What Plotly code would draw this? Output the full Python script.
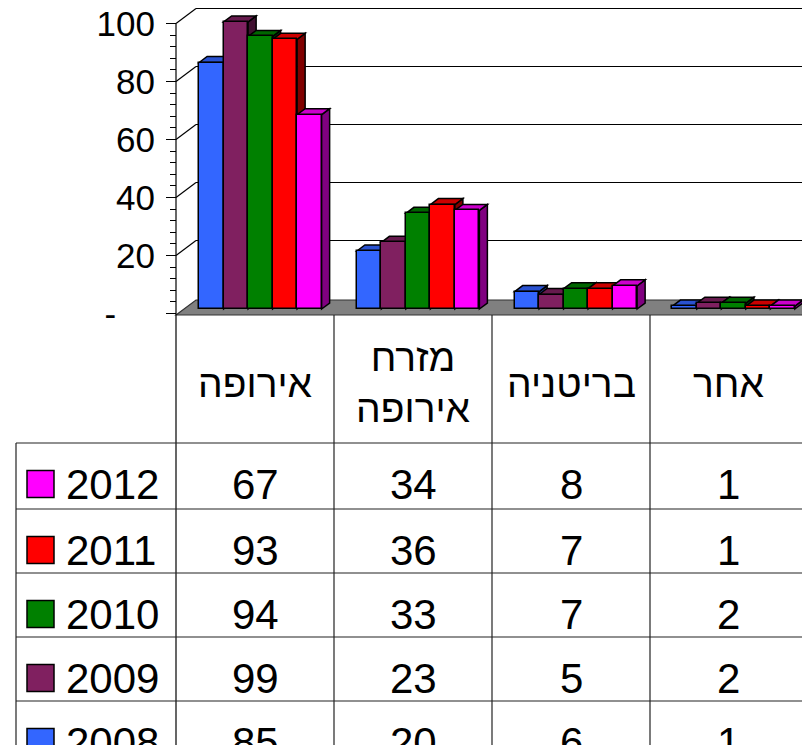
import plotly.graph_objects as go

# ---------------- data ----------------
categories = ["אירופה", "מזרח<br>אירופה", "בריטניה", "אחר"]
years = ["2008", "2009", "2010", "2011", "2012"]
v2008 = [85, 20, 6, 1]
v2009 = [99, 23, 5, 2]
v2010 = [94, 33, 7, 2]
v2011 = [93, 36, 7, 1]
v2012 = [67, 34, 8, 1]
series = [v2008, v2009, v2010, v2011, v2012]
tick_vals = [0, 20, 40, 60, 80, 100]
tick_text = ["-\u00a0\u00a0\u00a0\u00a0", "20", "40", "60", "80", "100"]

front_colors = ["#3366FF", "#802060", "#008000", "#FF0000", "#FF00FF"]
top_colors = ["#2A52D0", "#661A4D", "#006600", "#CC0000", "#CC00CC"]
side_colors = ["#1A3380", "#401030", "#004000", "#800000", "#800080"]

# ---------------- geometry (screen pixels -> data units) ----------------
W, H = 810, 745
OFF = 8                     # page body margin
X0, KX = 176.0, 157.75      # screen pixel of category origin, pixels per category
Y0, KY = 313.5, 2.9         # screen pixel of value 0 on front plane, pixels per unit


def px(p):
    return (p - X0) / KX


def py(p):
    return (Y0 - p) / KY


WALL_DX, WALL_DY = 20 / KX, 15 / KY      # back wall depth offset
BASE = 4.5 / KY                          # bars sit slightly back on the floor
BAR_SHIFT = 5.5 / KX
BW = 24.5 / KX                           # bar width
FDX, FDY = 8 / KX, 6 / KY                # bar depth offset
LEFT = (1 - 5 * BW) / 2 + BAR_SHIFT

fig = go.Figure()
shapes = []


def poly(pts, fill, lw=1.5, lc="black", layer="below"):
    d = "M " + " L ".join(f"{x},{y}" for x, y in pts) + " Z"
    return dict(type="path", path=d, fillcolor=fill, xref="x", yref="y",
                line=dict(color=lc, width=lw), layer=layer)


def line(x0, y0, x1, y1, w=1.2, c="black", layer="below"):
    return dict(type="line", x0=x0, y0=y0, x1=x1, y1=y1, xref="x", yref="y",
                line=dict(color=c, width=w), layer=layer)


# floor
shapes.append(poly([(px(176), py(315)), (px(196), py(300)), (px(840), py(300)),
                    (px(820), py(315))], "#808080", lw=1.2, lc="#333333"))
# back wall gridlines + left wall diagonals
for v in tick_vals[1:]:
    shapes.append(line(WALL_DX, v + WALL_DY, px(W + 20), v + WALL_DY))
    shapes.append(line(0, v, WALL_DX, v + WALL_DY))

# 3D side and top faces of the bars
for j, vals in enumerate(series):
    for i, v in enumerate(vals):
        xl = i + LEFT + j * BW
        xr = xl + BW
        top = BASE + v
        shapes.append(poly([(xr, BASE), (xr + FDX, BASE + FDY), (xr + FDX, top + FDY),
                            (xr, top)], side_colors[j]))
        shapes.append(poly([(xl, top), (xl + FDX, top + FDY), (xr + FDX, top + FDY),
                            (xr, top)], top_colors[j]))

# front faces as bars
for j, vals in enumerate(series):
    fig.add_trace(go.Bar(
        x=[i + LEFT + (j + 0.5) * BW for i in range(len(vals))],
        y=vals, base=[BASE] * len(vals), width=BW, name=years[j],
        marker=dict(color=front_colors[j], line=dict(color="black", width=1.5)),
        showlegend=False, hoverinfo="skip", cliponaxis=False))

# front axis line (continues as table border)
shapes.append(line(0, 100, 0, py(H + 20), w=1.2, layer="above"))

# ---------------- data table ----------------
col_edges = [176, 334, 492, 650, 807]
row_edges = [443, 509, 573, 637, 701, 765]
tc = "#222222"
for xe in col_edges[1:]:
    shapes.append(line(px(xe), py(315), px(xe), py(H + 20), w=1.2, c=tc, layer="above"))
shapes.append(line(px(16), py(443), px(16), py(H + 20), w=1.2, c=tc, layer="above"))
for ye in row_edges[:-1]:
    shapes.append(line(px(16), py(ye), px(W + 20), py(ye), w=1.2, c=tc, layer="above"))

FONT = "Liberation Sans, Arial, sans-serif"
annotations = []
for i, c in enumerate(categories):
    cx = (col_edges[i] + col_edges[i + 1]) / 2
    annotations.append(dict(x=px(cx), y=py(383), text=c, showarrow=False,
                            xanchor="center", yanchor="middle",
                            font=dict(family=FONT, size=39, color="black")))

for r, j in enumerate(reversed(range(len(years)))):
    yc = row_edges[r] + 41
    # legend key
    shapes.append(dict(type="rect", xref="x", yref="y",
                       x0=px(27), x1=px(54), y0=py(yc - 13.5), y1=py(yc + 13.5),
                       fillcolor=front_colors[j], line=dict(color="black", width=1.5),
                       layer="above"))
    annotations.append(dict(x=px(64), y=py(yc), text=years[j], showarrow=False,
                            xanchor="left", yanchor="middle",
                            font=dict(family=FONT, size=42, color="black")))
    for i, v in enumerate(series[j]):
        cx = (col_edges[i] + col_edges[i + 1]) / 2
        annotations.append(dict(x=px(cx), y=py(yc), text=str(v), showarrow=False,
                                xanchor="center", yanchor="middle",
                                font=dict(family=FONT, size=42, color="black")))

fig.update_layout(
    width=W, height=H, margin=dict(l=0, r=0, t=0, b=0, pad=0, autoexpand=False),
    paper_bgcolor="white", plot_bgcolor="white",
    barmode="overlay", bargap=0,
    shapes=shapes, annotations=annotations,
    xaxis=dict(range=[px(OFF), px(W + OFF)], visible=False, fixedrange=True,
               automargin=False),
    yaxis=dict(range=[py(H + OFF), py(OFF)], anchor="free", position=(X0 - OFF) / W,
               automargin=False, ticklabeloverflow="allow", ticklabelstandoff=4,
               showline=False, showgrid=False, zeroline=False,
               tickmode="array", tickvals=tick_vals, ticktext=tick_text,
               ticks="outside", ticklen=10, tickwidth=1.2, tickcolor="black",
               tickfont=dict(family=FONT, size=35, color="black"),
               minor=dict(tickmode="array",
                          tickvals=[v for v in range(4, 100, 4) if v % 20],
                          ticks="outside", ticklen=6, tickwidth=1, tickcolor="black"),
               fixedrange=True),
)

fig.write_html("out.html")
